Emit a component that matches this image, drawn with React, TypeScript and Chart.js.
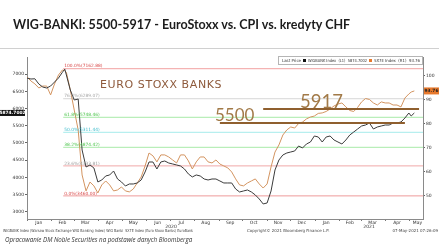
import React, { useEffect, useRef } from 'react';
import { Chart, registerables } from 'chart.js';

Chart.register(...registerables);

// ---------- texts ----------
const titleText = 'WIG-BANKI: 5500-5917 - EuroStoxx vs. CPI vs. kredyty CHF';
const sourceText = 'Opracowanie DM Noble Securities na podstawie danych Bloomberga';
const bigLabel = 'EURO STOXX BANKS';
const footerSeries = 'WIGBANK Index (Warsaw Stock Exchange WIG Banking Index) WIG Banki  SX7E Index (Euro Stoxx Banks) EuroBank';
const footerCopyright = 'Copyright\u00A9 2021 Bloomberg Finance L.P.';
const footerStamp = '07-May-2021 07:26:09';
const legendLast = 'Last Price';
const legendWig = 'WIGBANK Index  (L1)  5874.7002';
const legendSx = 'SX7E Index  (R1)  93.76';

// ---------- x axis (days since 1 Jan 2020) ----------
const monthLabels = ['Jan', 'Feb', 'Mar', 'Apr', 'May', 'Jun', 'Jul', 'Aug', 'Sep', 'Oct', 'Nov', 'Dec', 'Jan', 'Feb', 'Mar', 'Apr', 'May'];
const monthLabelDays = [15, 45, 74, 105, 135, 166, 196, 227, 258, 288, 319, 349, 380, 410, 439, 470, 496];
const monthStartDays = [0, 31, 60, 91, 121, 152, 182, 213, 244, 274, 305, 335, 366, 397, 425, 456, 486];
const yearLabels = ['2020', '2021'];
const yearStartDays = [0, 366];
const xMin = 0;
const xMax = 503;

// ---------- y axes ----------
const leftTicks = [3000, 3500, 4000, 4500, 5000, 5500, 6000, 6500, 7000];
const rightTicks = [50, 60, 70, 80, 90, 100];
const leftMin = 2787;
const leftMax = 7504;
const rightMin = 40.4;
const rightMax = 107.9;

// ---------- series ----------
const sampleDays = [0, 5, 10, 15, 20, 25, 30, 35, 40, 45, 48, 50, 55, 60, 65, 70, 75, 80, 85, 90, 95, 100, 105, 110, 115, 120, 125, 130, 135, 140, 145, 150, 155, 160, 165, 170, 175, 180, 185, 190, 195, 200, 205, 210, 215, 220, 225, 230, 235, 240, 245, 250, 255, 260, 265, 270, 275, 280, 285, 290, 295, 300, 305, 310, 315, 320, 325, 330, 335, 340, 345, 350, 355, 360, 365, 370, 375, 380, 385, 390, 395, 400, 405, 410, 415, 420, 425, 430, 435, 440, 445, 450, 455, 460, 465, 470, 475, 480, 485, 488, 492];
const wigBanki = [6892, 6863, 6870, 6718, 6630, 6601, 6659, 6776, 6892, 7060, 7150, 6980, 6543, 6252, 6280, 4796, 4302, 4360, 4272, 3865, 3923, 4040, 4069, 4185, 3952, 3865, 3748, 3807, 3807, 3836, 3923, 4156, 4447, 4447, 4243, 4447, 4476, 4418, 4389, 4360, 4331, 4243, 4098, 4011, 4069, 4040, 3952, 3923, 3952, 3952, 3894, 3836, 3836, 3836, 3661, 3574, 3603, 3632, 3574, 3487, 3370, 3225, 3254, 3603, 4214, 4505, 4651, 4709, 4738, 4767, 4913, 4855, 4971, 5029, 5204, 5175, 5029, 5175, 5204, 5087, 5029, 4971, 5087, 5233, 5320, 5408, 5495, 5524, 5582, 5408, 5466, 5495, 5524, 5524, 5582, 5582, 5611, 5727, 5873, 5786, 5874.7002];
const sx7e = [99.6, 97.9, 96.7, 95.0, 95.8, 95.8, 92.1, 96.7, 100.4, 102.5, 102.2, 101.5, 94.2, 85.8, 77.5, 58.75, 52.1, 55.8, 54.2, 51.25, 54.6, 56.25, 54.6, 52.1, 52.5, 53.75, 52.1, 51.7, 52.9, 55.4, 57.9, 62.5, 67.9, 66.7, 64.2, 67.1, 67.1, 66.25, 65, 63.75, 67.1, 67.1, 64.6, 61.25, 64.2, 66.25, 66.25, 64.2, 63.75, 65, 63.3, 62.5, 61.7, 60, 57.1, 54.6, 54.2, 55.4, 56.25, 57.1, 55, 53.3, 55, 62.1, 68.3, 71.25, 75.4, 77.5, 78.75, 78.3, 80.2, 80.8, 82.1, 82.9, 83.3, 84.4, 84.6, 85.2, 86.25, 87.5, 88.3, 88.75, 87.1, 85.6, 85.2, 86.9, 89.2, 90.6, 90.2, 88.75, 87.9, 89.2, 88.75, 88.75, 87.9, 87.9, 87.1, 90.8, 92.5, 93.3, 93.76];
const wigLast = 5874.7002;
const sxLast = 93.76;

// ---------- Fibonacci retracement ----------
const fibLevels = [7162.88, 6289.07, 5748.46, 5311.44, 4874.42, 4333.81, 3460.0];
const fibLabels = ['100.0%(7162.88)', '76.4%(6289.07)', '61.8%(5748.46)', '50.0%(5311.44)', '38.2%(4874.42)', '23.6%(4333.81)', '0.0%(3460.00)'];
const fibLineColors = ['#f2a0a0', '#d6d6d6', '#a8eaa8', '#a6ecec', '#a8eaa8', '#f0a8a8', '#ee9a9a'];
const fibTextColors = ['#d84a4a', '#a8a8a8', '#4cc44c', '#3fbccc', '#4cc44c', '#a0a0a0', '#d84a4a'];
const fibStartDay = 46;

// ---------- hand-drawn levels on the slide ----------
const handLevelNames = ['5500', '5917'];
const handLevelValues = [5582, 5990];
const handLevelFrom = [245, 300];
const handLevelTo = [480, 498];

const COLORS = {
  wig: '#3b3b3b',
  sx: '#d39460',
  sxBadge: '#e8792c',
  axis: '#8a8a8a',
  text: '#333333',
  brown: '#8f5f2e',
};

const overlayPlugin = {
  id: 'overlay',
  afterDraw(chart: any) {
    const { ctx, scales } = chart;
    const x = scales.x;
    const yL = scales.yL;
    const yR = scales.yR;
    ctx.save();
    // Fibonacci labels
    ctx.font = '4.4px "DejaVu Sans"';
    ctx.textBaseline = 'bottom';
    ctx.textAlign = 'left';
    fibLevels.forEach((lv, i) => {
      ctx.fillStyle = fibTextColors[i];
      ctx.fillText(fibLabels[i], x.getPixelForValue(fibStartDay) + 1, yL.getPixelForValue(lv) - 0.3);
    });
    // year labels
    ctx.fillStyle = COLORS.text;
    ctx.textAlign = 'center';
    ctx.textBaseline = 'top';
    ctx.font = '4.5px "DejaVu Sans"';
    yearLabels.forEach((lbl, i) => {
      const a = x.getPixelForValue(yearStartDays[i]);
      const b = i + 1 < yearStartDays.length ? x.getPixelForValue(yearStartDays[i + 1]) : chart.chartArea.right;
      ctx.fillText(lbl, (a + b) / 2, 224.5);
    });
    // last value badges
    const yw = yL.getPixelForValue(wigLast);
    ctx.fillStyle = '#111';
    ctx.fillRect(0, yw - 3, 25, 6);
    ctx.fillStyle = '#fff';
    ctx.textBaseline = 'middle';
    ctx.font = 'bold 4.4px "DejaVu Sans"';
    ctx.fillText(String(wigLast.toFixed(4)), 12.5, yw + 0.3);
    const ys = yR.getPixelForValue(sxLast);
    ctx.fillStyle = COLORS.sxBadge;
    ctx.fillRect(424, ys - 3.5, 15, 7);
    ctx.fillStyle = '#222';
    ctx.fillText(String(sxLast), 431.5, ys + 0.3);
    // legend box
    ctx.fillStyle = '#fff';
    ctx.fillRect(278.5, 56.5, 144, 8);
    ctx.strokeStyle = '#b5b5b5';
    ctx.lineWidth = 1;
    ctx.strokeRect(278.5, 56.5, 144, 8);
    ctx.textAlign = 'left';
    ctx.font = '4.2px "DejaVu Sans"';
    ctx.fillStyle = '#333';
    ctx.fillText(legendLast, 282, 60.7, 19);
    ctx.fillStyle = '#111';
    ctx.fillRect(303, 59, 3, 3);
    ctx.fillStyle = '#333';
    ctx.fillText(legendWig, 308, 60.7, 59);
    ctx.fillStyle = COLORS.sxBadge;
    ctx.fillRect(369, 59, 3, 3);
    ctx.fillStyle = '#333';
    ctx.fillText(legendSx, 374, 60.7, 46);
    // Bloomberg footer
    ctx.font = '4px "DejaVu Sans"';
    ctx.fillStyle = '#444';
    ctx.fillText(footerSeries, 3, 231, 190);
    ctx.fillText(footerCopyright, 247, 231, 88);
    ctx.textAlign = 'right';
    ctx.fillText(footerStamp, 438, 231, 49);
    ctx.restore();
  },
};

export default function App() {
  const ref = useRef<HTMLCanvasElement>(null);

  useEffect(() => {
    const canvas = ref.current;
    if (!canvas) return;
    const datasets: any[] = [];
    fibLevels.forEach((lv, i) => {
      datasets.push({
        data: [{ x: fibStartDay, y: lv }, { x: xMax, y: lv }],
        yAxisID: 'yL',
        borderColor: fibLineColors[i],
        borderWidth: 1,
        pointRadius: 0,
        order: 10,
      });
    });
    datasets.push({
      data: sampleDays.map((d, i) => ({ x: d, y: wigBanki[i] })),
      yAxisID: 'yL',
      borderColor: COLORS.wig,
      borderWidth: 1,
      pointRadius: 0,
      tension: 0,
      order: 2,
    });
    datasets.push({
      data: sampleDays.map((d, i) => ({ x: d, y: sx7e[i] })),
      yAxisID: 'yR',
      borderColor: COLORS.sx,
      borderWidth: 1,
      pointRadius: 0,
      tension: 0,
      order: 3,
    });
    handLevelValues.forEach((lv, i) => {
      datasets.push({
        label: handLevelNames[i],
        data: [{ x: handLevelFrom[i], y: lv }, { x: handLevelTo[i], y: lv }],
        yAxisID: 'yL',
        borderColor: COLORS.brown,
        borderWidth: 2.2,
        pointRadius: 0,
        order: 1,
      });
    });

    const allXTicks = [...monthStartDays, ...monthLabelDays].sort((a, b) => a - b);

    const chart = new Chart(canvas, {
      type: 'line',
      data: { datasets },
      options: {
        animation: false,
        responsive: false,
        events: [],
        layout: { padding: { top: 57, bottom: 16, left: 0, right: 0 } },
        plugins: { legend: { display: false }, tooltip: { enabled: false }, title: { display: false } },
        scales: {
          x: {
            type: 'linear',
            min: xMin,
            max: xMax,
            afterFit: (s: any) => { s.height = 12; },
            afterBuildTicks: (s: any) => { s.ticks = allXTicks.map((v) => ({ value: v })); },
            ticks: {
              autoSkip: false,
              maxRotation: 0,
              padding: -1,
              font: { size: 4.5, family: 'DejaVu Sans' },
              color: COLORS.text,
              callback: (v: any) => {
                const i = monthLabelDays.indexOf(Number(v));
                return i >= 0 ? monthLabels[i] : '';
              },
            },
            grid: {
              drawOnChartArea: false,
              tickLength: 2,
              tickColor: (c: any) => (c.tick && monthStartDays.includes(c.tick.value) ? '#777' : 'rgba(0,0,0,0)'),
            },
            border: { color: COLORS.axis, width: 1 },
          },
          yL: {
            type: 'linear',
            position: 'left',
            min: leftMin,
            max: leftMax,
            afterFit: (s: any) => { s.width = 27; },
            afterBuildTicks: (s: any) => { s.ticks = leftTicks.map((v) => ({ value: v })); },
            ticks: {
              padding: 1,
              font: { size: 4.5, family: 'DejaVu Sans' },
              color: COLORS.text,
              callback: (v: any) => String(v),
            },
            grid: { drawOnChartArea: false, tickLength: 2, tickColor: '#666' },
            border: { color: COLORS.axis, width: 1 },
          },
          yR: {
            type: 'linear',
            position: 'right',
            min: rightMin,
            max: rightMax,
            afterFit: (s: any) => { s.width = 16; },
            afterBuildTicks: (s: any) => { s.ticks = rightTicks.map((v) => ({ value: v })); },
            ticks: {
              padding: 1,
              font: { size: 4.5, family: 'DejaVu Sans' },
              color: COLORS.text,
              callback: (v: any) => String(v),
            },
            grid: { drawOnChartArea: false, tickLength: 2, tickColor: '#666' },
            border: { color: COLORS.axis, width: 1 },
          },
        },
      } as any,
      plugins: [overlayPlugin],
    });
    return () => chart.destroy();
  }, []);

  return (
    <div style={{ position: 'fixed', left: 0, top: 0, width: 439, height: 247, background: '#fff', overflow: 'hidden' }}>
      <canvas ref={ref} width={439} height={247} style={{ position: 'absolute', left: 0, top: 0, width: 439, height: 247 }} />
      <div style={{ position: 'absolute', left: 13, top: 18, fontFamily: 'Lato, "DejaVu Sans", sans-serif', fontWeight: 700, fontSize: 12.5, lineHeight: '14px', color: '#1c1c1c', whiteSpace: 'nowrap' }}>
        {titleText}
      </div>
      <div style={{ position: 'absolute', left: 0, top: 48, width: 439, height: 1, background: '#d0d0d0' }} />
      <div style={{ position: 'absolute', left: 100, top: 78, fontFamily: '"DejaVu Sans", sans-serif', fontSize: 11, lineHeight: '13px', letterSpacing: 0.6, color: '#8e5a3c', whiteSpace: 'nowrap' }}>
        {bigLabel}
      </div>
      <div style={{ position: 'absolute', left: 215, top: 105, fontFamily: 'Lato, sans-serif', fontSize: 17, lineHeight: '19px', color: '#a27a48', whiteSpace: 'nowrap' }}>
        {handLevelNames[0]}
      </div>
      <div style={{ position: 'absolute', left: 300, top: 91, fontFamily: 'Lato, sans-serif', fontSize: 18.5, lineHeight: '20px', color: '#a27a48', whiteSpace: 'nowrap' }}>
        {handLevelNames[1]}
      </div>
      <div style={{ position: 'absolute', left: 5, top: 236, fontFamily: '"Open Sans", sans-serif', fontStyle: 'italic', fontSize: 6.2, lineHeight: '7px', color: '#333', whiteSpace: 'nowrap' }}>
        {sourceText}
      </div>
    </div>
  );
}
